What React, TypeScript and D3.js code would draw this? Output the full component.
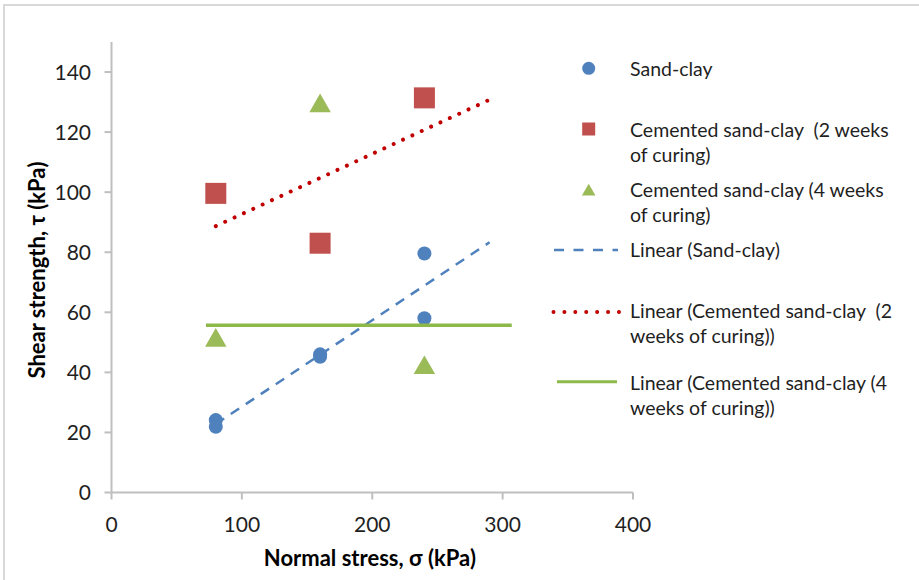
import React from "react";
import * as d3 from "d3";

// ---- data ----
const sandClayX = [80, 80, 160, 160, 240, 240];
const sandClayY = [24.1, 21.9, 46.0, 45.2, 79.6, 58.0];
const cem2X = [80, 160, 240];
const cem2Y = [99.6, 83.0, 131.4];
const cem4X = [80, 160, 240];
const cem4Y = [51.1, 129.2, 42.0];
const trendSandX = [80, 290];
const trendSandY = [22.8, 83.3];
const trend2X = [80, 290];
const trend2Y = [88.7, 130.8];
const trend4X = [72.5, 307];
const trend4Y = [55.7, 55.7];
const xTicks = [0, 100, 200, 300, 400];
const yTicks = [0, 20, 40, 60, 80, 100, 120, 140];

const legendLines = [
  ["Sand-clay"],
  ["Cemented sand-clay  (2 weeks", "of curing)"],
  ["Cemented sand-clay (4 weeks", "of curing)"],
  ["Linear (Sand-clay)"],
  ["Linear (Cemented sand-clay  (2", "weeks of curing))"],
  ["Linear (Cemented sand-clay (4", "weeks of curing))"],
];

const BLUE = "#4F81BD";
const RED = "#C0504D";
const GREEN = "#9BBB59";
const DRED = "#C00000";
const GLINE = "#8DB84A";
const FONT = "Lato, 'Open Sans', sans-serif";
const TXT = "#1f1f1f";

export default function App() {
  const x = d3.scaleLinear().domain([0, 400]).range([111.5, 633]);
  const y = d3.scaleLinear().domain([0, 150]).range([492.5, 42]);
  const line = d3
    .line<[number, number]>()
    .x((d) => x(d[0]))
    .y((d) => y(d[1]));
  const zip = (a: number[], b: number[]) => a.map((v, i) => [v, b[i]] as [number, number]);
  const tri = d3.symbol().type(d3.symbolTriangle).size(200)();
  const triLeg = d3.symbol().type(d3.symbolTriangle).size(80)();

  const legX = 588.7;
  const textX = 630;
  const legRows = [
    { y: 68.3, base: 76 },
    { y: 129, base: 136.7 },
    { y: 190.7, base: 197 },
    { y: 250, base: 256.7 },
    { y: 312, base: 318.3 },
    { y: 381.7, base: 390 },
  ];

  return (
    <svg
      width={919}
      height={580}
      style={{ position: "absolute", left: 0, top: 0, background: "#fff" }}
      fontFamily={FONT}
    >
      <rect x={0} y={0} width={919} height={580} fill="#fff" />
      <rect x={4} y={5} width={1000} height={1000} fill="none" stroke="#d9d9d9" strokeWidth={2} />

      {/* axes */}
      <line x1={x(0)} x2={x(0)} y1={y(150)} y2={y(0)} stroke="#bfbfbf" strokeWidth={2} />
      <line x1={x(0)} x2={x(400)} y1={y(0)} y2={y(0)} stroke="#bfbfbf" strokeWidth={2} />
      {yTicks.map((t) => (
        <g key={"y" + t}>
          <line x1={x(0) - 7} x2={x(0)} y1={y(t)} y2={y(t)} stroke="#bfbfbf" strokeWidth={2} />
          <text x={91} y={y(t) + 7.5} textAnchor="end" fontSize={21} fill={TXT}>
            {t}
          </text>
        </g>
      ))}
      {xTicks.map((t) => (
        <g key={"x" + t}>
          <line x1={x(t)} x2={x(t)} y1={y(0)} y2={y(0) + 7} stroke="#bfbfbf" strokeWidth={2} />
          <text x={x(t)} y={532} textAnchor="middle" fontSize={21} fill={TXT}>
            {t}
          </text>
        </g>
      ))}

      <text x={370} y={566} textAnchor="middle" fontSize={22} fontWeight="bold" fill="#000">
        Normal stress, σ (kPa)
      </text>
      <text
        transform="translate(45,270) rotate(-90)"
        textAnchor="middle"
        fontSize={22}
        fontWeight="bold"
        fill="#000"
      >
        Shear strength, τ (kPa)
      </text>

      {/* markers */}
      {zip(sandClayX, sandClayY).map((d, i) => (
        <circle key={"c" + i} cx={x(d[0])} cy={y(d[1])} r={7} fill={BLUE} />
      ))}
      {zip(cem2X, cem2Y).map((d, i) => (
        <rect key={"s" + i} x={x(d[0]) - 10.5} y={y(d[1]) - 10.5} width={21} height={21} fill={RED} />
      ))}
      {zip(cem4X, cem4Y).map((d, i) => (
        <path key={"t" + i} d={tri || ""} transform={`translate(${x(d[0])},${y(d[1]) + 1.5})`} fill={GREEN} />
      ))}

      {/* trendlines */}
      <path d={line(zip(trendSandX, trendSandY)) || ""} stroke={BLUE} strokeWidth={2.5} strokeDasharray="10,8" fill="none" />
      <path
        d={line(zip(trend2X, trend2Y)) || ""}
        stroke={DRED}
        strokeWidth={4}
        strokeDasharray="0.01,10.3"
        strokeLinecap="round"
        fill="none"
      />
      <path d={line(zip(trend4X, trend4Y)) || ""} stroke={GLINE} strokeWidth={3.5} fill="none" />

      {/* legend */}
      <circle cx={legX} cy={legRows[0].y} r={6.5} fill={BLUE} />
      <rect x={legX - 6.5} y={legRows[1].y - 6.5} width={13} height={13} fill={RED} />
      <path d={triLeg || ""} transform={`translate(${legX},${legRows[2].y + 1})`} fill={GREEN} />
      <line x1={554} x2={618} y1={legRows[3].y} y2={legRows[3].y} stroke={BLUE} strokeWidth={2.5} strokeDasharray="10,9.5" />
      <line
        x1={553.5}
        x2={619}
        y1={legRows[4].y}
        y2={legRows[4].y}
        stroke={DRED}
        strokeWidth={4}
        strokeDasharray="0.01,10.9"
        strokeLinecap="round"
      />
      <line x1={557} x2={617} y1={legRows[5].y} y2={legRows[5].y} stroke={GLINE} strokeWidth={3} />
      {legendLines.map((lines, i) =>
        lines.map((s, j) => (
          <text
            key={"l" + i + "-" + j}
            x={textX}
            y={legRows[i].base + j * 25}
            fontSize={19.5}
            fill={TXT}
            style={{ whiteSpace: "pre" }}
          >
            {s}
          </text>
        ))
      )}
    </svg>
  );
}
